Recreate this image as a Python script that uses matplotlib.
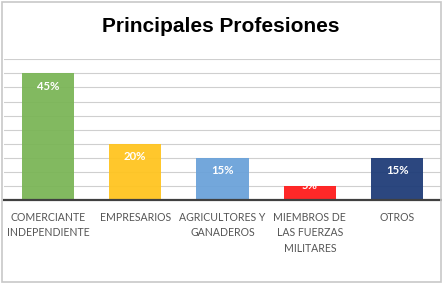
import matplotlib.pyplot as plt
from matplotlib.patches import Rectangle

# --- data ---
categories = ['COMERCIANTE\nINDEPENDIENTE', 'EMPRESARIOS', 'AGRICULTORES Y\nGANADEROS',
              'MIEMBROS DE\nLAS FUERZAS\nMILITARES', 'OTROS']
values = [45, 20, 15, 5, 15]
value_labels = ['45%', '20%', '15%', '5%', '15%']
colors = ['#7AB556', '#FFC41F', '#6AA2D9', '#FF1A1A', '#1E3B77']

fig = plt.figure(figsize=(4.42, 2.83), dpi=100)
fig.patch.set_facecolor('white')

# light frame round the whole chart
fig.patches.append(Rectangle((1.5 / 442, 1.5 / 283), 439.5 / 442, 280 / 283,
                             transform=fig.transFigure, fill=False,
                             edgecolor='#C8C8C8', linewidth=1.2))

ax = fig.add_axes([4.2 / 442, 83 / 283, 436.5 / 442, 140.7 / 283])
x = range(len(categories))
ax.bar(x, values, width=0.6, color=colors, alpha=0.94, zorder=2)
ax.set_xlim(-0.5, 4.5)
ax.set_ylim(0, 50)
ax.set_yticks(range(0, 51, 5))
ax.yaxis.grid(True, color='#CFCFCF', linewidth=0.8, zorder=1)
ax.set_axisbelow(True)
ax.tick_params(left=False, labelleft=False, bottom=False)
for s in ['left', 'right', 'top']:
    ax.spines[s].set_visible(False)
ax.spines['bottom'].set_color('#404040')
ax.spines['bottom'].set_linewidth(1.6)
ax.spines['bottom'].set_zorder(4)

ax.set_xticks(list(x))
ax.set_xticklabels(categories, fontsize=7.6, color='#555555', family='Lato',
                   linespacing=1.5, va='top')
ax.tick_params(axis='x', pad=5)

for i, (v, lab) in enumerate(zip(values, value_labels)):
    yy = v - 4.6 if v > 8 else v + 0.3
    ax.text(i, yy, lab, ha='center', va='center', color='white',
            fontsize=8.2, fontweight='bold', family='Lato', zorder=5)

fig.text(221 / 442, 1 - 31.7 / 283, 'Principales Profesiones', ha='center',
         va='baseline', fontsize=15, fontweight='bold',
         family='Liberation Sans')

fig.savefig('out.png', dpi=100)
